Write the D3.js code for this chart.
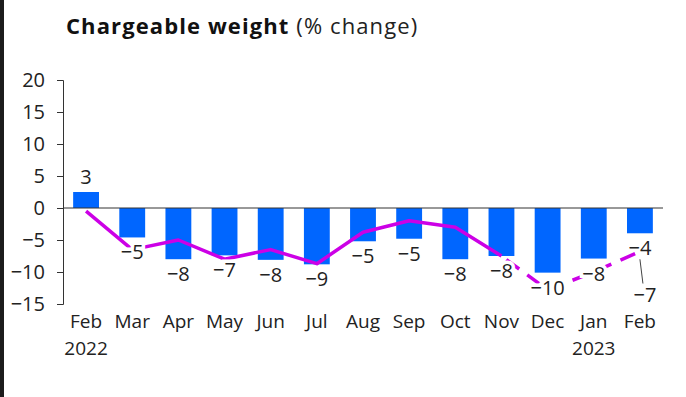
<!DOCTYPE html>
<html>
<head>
<meta charset="utf-8">
<script src="https://cdn.jsdelivr.net/npm/d3@7"></script>
<style>
  body { margin: 0; background: #fff; }
  svg { display: block; font-family: 'Open Sans', sans-serif; }
</style>
</head>
<body>
<script>
// chart data
const months = ['Feb', 'Mar', 'Apr', 'May', 'Jun', 'Jul', 'Aug', 'Sep', 'Oct', 'Nov', 'Dec', 'Jan', 'Feb ']
const years = ['2022', '', '', '', '', '', '', '', '', '', '', '2023', '']
const barValues = [2.5, -4.6, -8, -7.4, -8.1, -8.8, -5.2, -4.8, -8, -7.5, -10.1, -7.9, -3.95]
const barLabels = ['3', '−5', '−8', '−7', '−8', '−9', '−5', '−5', '−8', '−8', '−10', '−8', '−4']
const lineValues = [-0.5, -6.5, -5, -8, -6.5, -8.7, -3.8, -2, -3, -7.5, -12.8, -10, -6.8]
const lineEndLabel = '−7'
const yTicks = [-15, -10, -5, 0, 5, 10, 15, 20]
const dashFrom = 9  // line turns dashed from Nov

const width = 686, height = 397

const svg = d3.select('body').append('svg').attr('width', width).attr('height', height)

svg.append('rect').attr('x', 0).attr('y', 0).attr('width', 4).attr('height', height).attr('fill', '#1c1c1c')

const x = d3.scaleBand().domain(months).range([63, 663]).paddingInner(0.44).paddingOuter(0.22)
const y = d3.scaleLinear().domain([-15, 20]).range([304, 80])

// title
const title = svg.append('text').attr('x', 66).attr('y', 34).attr('font-size', 22)
  .attr('letter-spacing', 1.1).attr('fill', '#111')
title.append('tspan').attr('font-weight', 700).text('Chargeable weight')
title.append('tspan').attr('font-weight', 400).attr('fill', '#222').text(' (% change)')

// y axis
const yAxis = svg.append('g').attr('transform', 'translate(63,0)')
  .call(d3.axisLeft(y).tickValues(yTicks).tickSize(6).tickPadding(12).tickFormat(d3.format('d')))
yAxis.select('.domain').attr('stroke', '#333')
yAxis.selectAll('.tick line').attr('stroke', '#333')
yAxis.selectAll('.tick text').attr('font-size', 20).attr('fill', '#222').attr('font-family', 'Open Sans')

// bars
svg.selectAll('rect.bar').data(barValues).join('rect')
  .attr('class', 'bar')
  .attr('x', (d, i) => x(months[i]))
  .attr('width', x.bandwidth())
  .attr('y', d => y(Math.max(0, d)))
  .attr('height', d => Math.abs(y(d) - y(0)))
  .attr('fill', '#0066ff')

// zero line
svg.append('line')
  .attr('x1', 63).attr('x2', 663)
  .attr('y1', y(0)).attr('y2', y(0))
  .attr('stroke', '#333').attr('stroke-width', 1)

// line series
const cx = i => x(months[i]) + x.bandwidth() / 2
const pts = lineValues.map((v, i) => [cx(i), y(v)])
const lineGen = d3.line()

svg.append('path')
  .attr('d', lineGen(pts.slice(0, dashFrom + 1)))
  .attr('fill', 'none').attr('stroke', '#cc00e6').attr('stroke-width', 3.5)
  .attr('stroke-linejoin', 'round')

svg.append('path')
  .attr('d', lineGen(pts.slice(dashFrom)))
  .attr('fill', 'none').attr('stroke', '#cc00e6').attr('stroke-width', 3.5)
  .attr('stroke-dasharray', '16,10').attr('stroke-dashoffset', -6)

// bar labels with white halo
svg.selectAll('text.barlabel').data(barValues).join('text')
  .attr('class', 'barlabel')
  .attr('x', (d, i) => cx(i))
  .attr('y', d => d >= 0 ? y(d) - 8 : y(d) + 22)
  .attr('text-anchor', 'middle')
  .attr('font-size', 20)
  .attr('fill', '#222')
  .attr('stroke', '#fff').attr('stroke-width', 7).attr('paint-order', 'stroke')
  .text((d, i) => barLabels[i])

// last line point label with leader
const last = lineValues.length - 1
svg.append('line')
  .attr('x1', cx(last)).attr('y1', y(barValues[last]) + 26)
  .attr('x2', cx(last) + 3).attr('y2', y(lineValues[last]) + 32)
  .attr('stroke', '#444').attr('stroke-width', 1)
svg.append('text')
  .attr('x', cx(last) + 5).attr('y', y(lineValues[last]) + 50)
  .attr('text-anchor', 'middle').attr('font-size', 20).attr('fill', '#222')
  .text(lineEndLabel)

// category labels, year on its own line below
svg.selectAll('text.month').data(months).join('text')
  .attr('class', 'month')
  .attr('x', (d, i) => cx(i))
  .attr('y', 328)
  .attr('text-anchor', 'middle').attr('font-size', 19).attr('fill', '#222')
  .text(d => d.trim())

svg.selectAll('text.year').data(years.filter(d => d !== '')).join('text')
  .attr('class', 'year')
  .attr('x', d => cx(years.indexOf(d)))
  .attr('y', 355)
  .attr('text-anchor', 'middle').attr('font-size', 19).attr('fill', '#222')
  .text(d => d)
</script>
</body>
</html>
